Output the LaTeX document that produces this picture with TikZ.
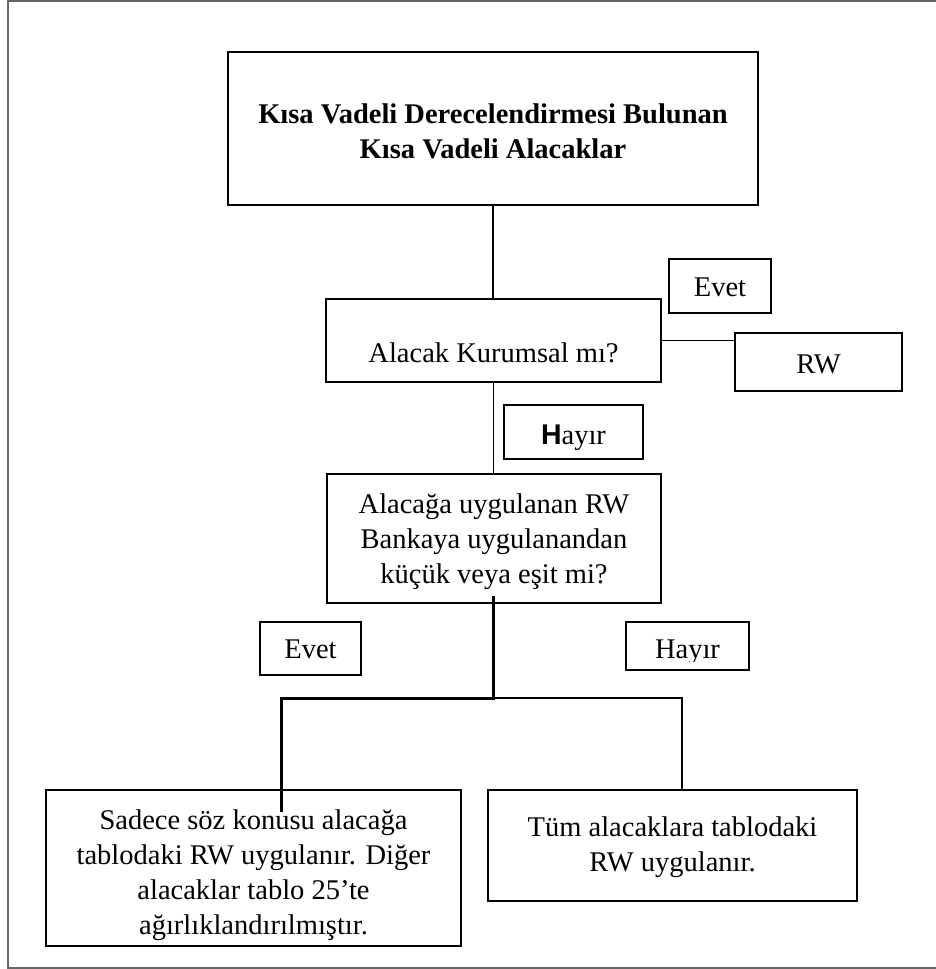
\documentclass[tikz,border=0pt]{standalone}
\usepackage{fontspec}
\setmainfont{Liberation Serif}
\newfontfamily\arialH{Liberation Sans}
% fixes the height of the first line so that text blocks can be placed by their first baseline
\newcommand\firststrut{\rule{0pt}{25pt}}
\begin{document}
\begin{tikzpicture}[x=1pt,y=-1pt,
  box/.style={draw=black, line width=1.2pt, inner sep=0pt, rectangle},
  txt/.style={anchor=north, inner sep=0pt, align=center, font=\fontsize{28.5}{35}\selectfont},
  link/.style={line width=1.1pt},
  heavy/.style={line width=3pt},
  frame/.style={draw=black!60, line width=2pt}]
\useasboundingbox (0,0) rectangle (936,969);

% outer frame (its right side lies beyond the page)
\draw[frame] (950,0.8) -- (8,0.8) -- (8,968) -- (950,968);

% boxes
\node[box, minimum width=530pt, minimum height=153pt] (top)    at (493,128.5) {};
\node[box, minimum width=335pt, minimum height=83pt]  (kurum)  at (493.5,340.5) {};
\node[box, minimum width=102pt, minimum height=54pt]  (evetA)  at (720,286) {};
\node[box, minimum width=167pt, minimum height=58pt]  (rw)     at (818.5,362) {};
\node[box, minimum width=139pt, minimum height=54pt]  (hayirA) at (573.5,432) {};
\node[box, minimum width=334pt, minimum height=129pt] (rwq)    at (494,538.5) {};
\node[box, minimum width=101pt, minimum height=53pt]  (evetB)  at (310.5,648.5) {};
\node[box, minimum width=123pt, minimum height=48pt]  (hayirB) at (687.5,646) {};
\node[box, minimum width=415pt, minimum height=156pt] (only)   at (253.5,868) {};
\node[box, minimum width=369pt, minimum height=111pt] (all)    at (672.5,845.5) {};

% texts
\node[txt, font=\fontsize{28.5}{35}\selectfont\bfseries] (topT) at (493,98)
  {\firststrut Kısa Vadeli Derecelendirmesi Bulunan\\Kısa Vadeli Alacaklar};
\node[txt] (kurumT)  at (493.5,337) {\firststrut Alacak Kurumsal mı?};
\node[txt] (evetAT)  at (720,271)   {\firststrut Evet};
\node[txt] (rwT)     at (818.5,348) {\firststrut RW};
\node[txt] (hayirAT) at (573.5,419) {\firststrut{\arialH\bfseries H}ayır};
\node[txt] (rwqT)    at (494,488)
  {\firststrut Alacağa uygulanan RW\\Bankaya uygulanandan\\küçük veya eşit mi?};
\node[txt] (evetBT)  at (310.5,633) {\firststrut Evet};
\begin{scope}
  \clip (600,600) rectangle (770,661);
  \node[txt] (hayirBT) at (687.5,633) {\firststrut Hayır};
\end{scope}
\node[txt] (onlyT)   at (253.5,804)
  {\firststrut Sadece söz konusu alacağa\\tablodaki RW uygulanır. Diğer\\alacaklar tablo 25’te\\ağırlıklandırılmıştır.};
\node[txt] (allT)    at (672.5,811)
  {\firststrut Tüm alacaklara tablodaki\\RW uygulanır.};

% connectors
\draw[link] (top.south) -- (top.south |- kurum.north);
\draw[link] (kurum.east) -- (kurum.east -| rw.west);
\draw[link] (kurum.south) -- (kurum.south |- rwq.north);

\coordinate (split)  at (493,698);
\coordinate (hstart) at (493,596);
\coordinate (hend)   at (281,812);
\coordinate (rtap)   at (682,790);
\draw[heavy] (hstart) -- (split) -| (hend);
\draw[link] (split) -| (rtap);
\end{tikzpicture}
\end{document}
